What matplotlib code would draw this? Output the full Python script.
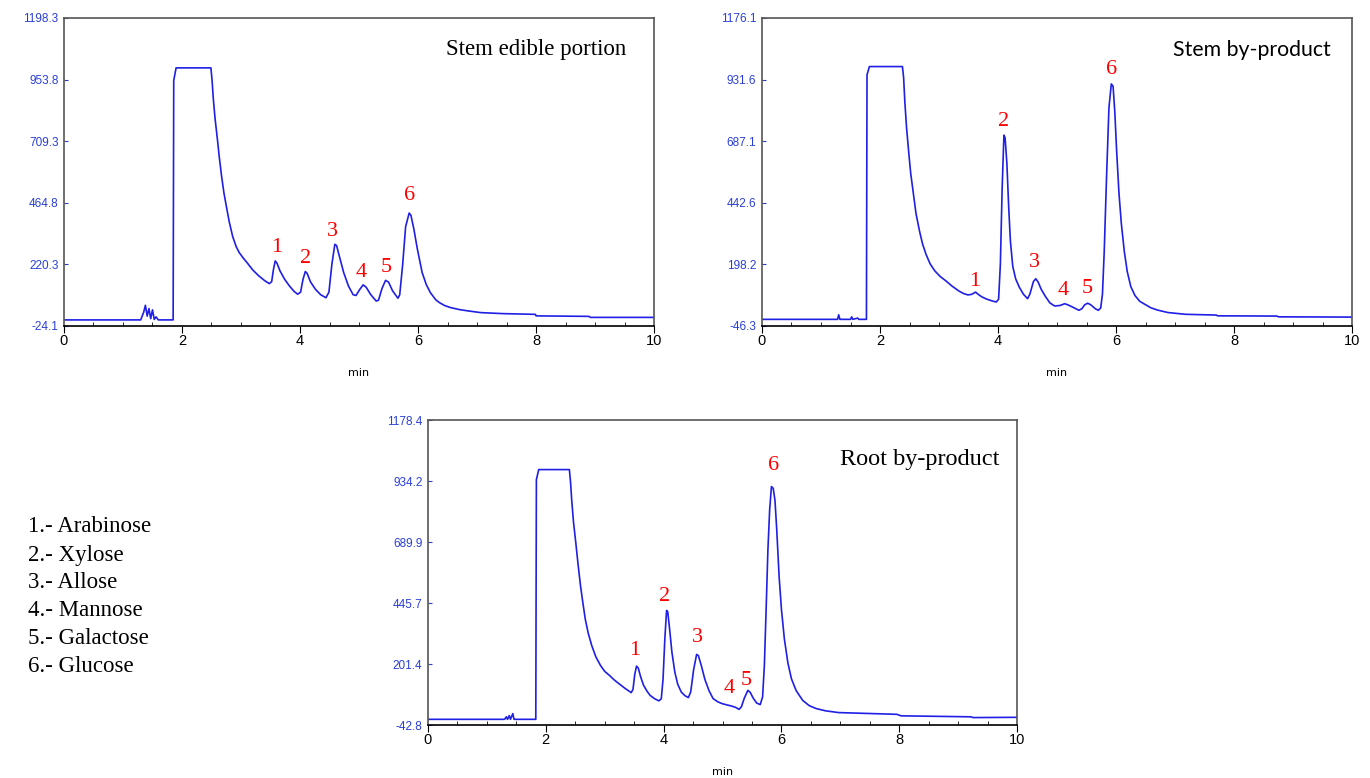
import matplotlib.pyplot as plt
from matplotlib.ticker import MultipleLocator

# chromatogram traces (time in min, signal)
t_stem = [0, 1.30, 1.35, 1.38, 1.41, 1.44, 1.47, 1.50, 1.53, 1.56, 1.60, 1.85, 1.86, 1.90, 2.49,
          2.51, 2.53, 2.56, 2.60, 2.63, 2.67, 2.71, 2.75, 2.80, 2.86, 2.92, 2.97, 3.04, 3.11, 3.20,
          3.30, 3.40, 3.48, 3.52, 3.55, 3.58, 3.61, 3.66, 3.74, 3.82, 3.90, 3.96, 4.01, 4.05, 4.09,
          4.12, 4.18, 4.26, 4.35, 4.44, 4.49, 4.54, 4.59, 4.62, 4.67, 4.74, 4.82, 4.90, 4.95, 5.01,
          5.07, 5.12, 5.20, 5.29, 5.33, 5.39, 5.45, 5.50, 5.57, 5.66, 5.69, 5.74, 5.79, 5.85, 5.88,
          5.93, 5.99, 6.07, 6.14, 6.21, 6.30, 6.36, 6.45, 6.55, 6.70, 6.84, 7.06, 7.43, 7.99, 8.00,
          8.90, 8.92, 10.0]
y_stem = [0, 0, 30, 58, 15, 45, 5, 40, 2, 12, 0, 0, 950, 1000, 1000,
          950, 880, 800, 717, 650, 572, 505, 453, 390, 330, 290, 267, 245, 225, 198,
          175, 156, 144, 152, 200, 234, 225, 195, 161, 135, 113, 102, 110, 160, 192,
          185, 150, 122, 100, 88, 110, 220, 300, 295, 250, 188, 135, 100, 97, 120,
          139, 130, 100, 75, 78, 125, 157, 150, 115, 86, 100, 220, 370, 424, 415,
          360, 280, 188, 140, 108, 80, 69, 57, 49, 41, 36, 29, 25, 22, 16,
          14, 10, 10]

t_stem_bp = [0, 1.28, 1.30, 1.32, 1.50, 1.52, 1.54, 1.62, 1.64, 1.77, 1.78, 1.82, 2.38, 2.40, 2.42,
             2.45, 2.49, 2.52, 2.56, 2.61, 2.67, 2.72, 2.78, 2.85, 2.93, 3.02, 3.12, 3.22, 3.34, 3.42,
             3.49, 3.55, 3.62, 3.66, 3.72, 3.80, 3.90, 3.97, 4.01, 4.04, 4.07, 4.10, 4.12, 4.15, 4.18,
             4.21, 4.25, 4.30, 4.36, 4.43, 4.50, 4.54, 4.60, 4.64, 4.68, 4.73, 4.80, 4.88, 4.96, 5.05,
             5.13, 5.18, 5.27, 5.37, 5.42, 5.47, 5.52, 5.57, 5.65, 5.70, 5.74, 5.77, 5.80, 5.84, 5.88,
             5.92, 5.95, 5.98, 6.01, 6.05, 6.09, 6.14, 6.19, 6.25, 6.32, 6.40, 6.50, 6.59, 6.70, 6.88,
             7.18, 7.70, 7.72, 8.73, 8.75, 10.0]
y_stem_bp = [-20, -20, -2, -20, -20, -10, -20, -15, -20, -20, 950, 983, 983, 940, 846,
             740, 634, 560, 489, 400, 330, 280, 238, 200, 172, 150, 132, 112, 92, 82,
             77, 79, 88, 80, 70, 61, 53, 49, 60, 200, 500, 711, 700, 600, 430,
             290, 190, 140, 108, 80, 62, 80, 130, 141, 128, 100, 72, 45, 33, 35,
             42, 38, 28, 16, 22, 38, 44, 38, 22, 16, 25, 80, 250, 550, 820,
             914, 905, 800, 650, 480, 360, 250, 170, 110, 75, 52, 38, 26, 17, 7,
             0, -3, -6, -7, -10, -11]

t_root = [0, 1.30, 1.33, 1.35, 1.38, 1.40, 1.44, 1.46, 1.83, 1.84, 1.88, 2.40, 2.42, 2.44, 2.47,
          2.51, 2.55, 2.59, 2.63, 2.67, 2.72, 2.78, 2.85, 2.93, 3.00, 3.08, 3.16, 3.24, 3.35, 3.45,
          3.48, 3.51, 3.54, 3.57, 3.61, 3.66, 3.72, 3.77, 3.85, 3.92, 3.96, 3.99, 4.02, 4.05, 4.07,
          4.10, 4.14, 4.19, 4.24, 4.30, 4.36, 4.42, 4.46, 4.51, 4.56, 4.59, 4.64, 4.70, 4.77, 4.84,
          4.92, 4.99, 5.07, 5.14, 5.22, 5.28, 5.32, 5.37, 5.43, 5.47, 5.52, 5.58, 5.64, 5.68, 5.71,
          5.74, 5.77, 5.80, 5.83, 5.86, 5.89, 5.92, 5.96, 6.00, 6.05, 6.11, 6.17, 6.25, 6.36, 6.47,
          6.59, 6.75, 6.97, 7.96, 8.03, 9.22, 9.25, 10.0]
y_root = [-20, -20, -10, -20, -5, -20, 3, -20, -20, 940, 980, 980, 930, 857, 770,
          685, 595, 513, 445, 381, 325, 275, 230, 195, 172, 156, 138, 123, 103, 87,
          100, 160, 193, 185, 150, 116, 92, 76, 62, 54, 62, 140, 300, 416, 410,
          345, 250, 169, 120, 89, 75, 67, 90, 180, 240, 235, 195, 140, 95, 63,
          50, 43, 38, 34, 28, 20, 30, 65, 96, 88, 65, 45, 39, 70, 195,
          420, 658, 820, 912, 905, 857, 740, 553, 420, 301, 205, 142, 95, 56, 35,
          23, 14, 7, 0, -6, -10, -13, -12]

# peak number labels (x, y in data units)
lbl_stem_x = [3.6, 4.1, 4.55, 5.03, 5.47, 5.86]
lbl_stem_y = [287, 243, 350, 190, 207, 493]
lbl_stem_bp_x = [3.6, 4.09, 4.61, 5.1, 5.52, 5.92]
lbl_stem_bp_y = [132, 764, 205, 95, 103, 972]
lbl_root_x = [3.5, 4.02, 4.58, 5.12, 5.41, 5.86]
lbl_root_y = [255, 473, 308, 103, 136, 996]

yt_stem = [-24.1, 220.3, 464.8, 709.3, 953.8, 1198.3]
yt_stem_bp = [-46.3, 198.2, 442.6, 687.1, 931.6, 1176.1]
yt_root = [-42.8, 201.4, 445.7, 689.9, 934.2, 1178.4]

sugars = ['1.- Arabinose', '2.- Xylose', '3.- Allose', '4.- Mannose', '5.- Galactose', '6.- Glucose']

fig = plt.figure(figsize=(13.7, 7.78), dpi=100)

panels = [
    ([0.0467, 0.581, 0.4307, 0.396], t_stem, y_stem, yt_stem, lbl_stem_x, lbl_stem_y,
     'Stem edible portion', 'Liberation Serif', 16.5, (0.80, 0.896)),
    ([0.5562, 0.581, 0.4307, 0.396], t_stem_bp, y_stem_bp, yt_stem_bp, lbl_stem_bp_x, lbl_stem_bp_y,
     'Stem by-product', 'Lato', 15.3, (0.83, 0.896)),
    ([0.3124, 0.0681, 0.4300, 0.392], t_root, y_root, yt_root, lbl_root_x, lbl_root_y,
     'Root by-product', 'Liberation Serif', 17.5, (0.834, 0.87)),
]

for rect, tt, yy, yt, lx, ly, title, tfont, tsize, tpos in panels:
    ax = fig.add_axes(rect)
    ax.plot(tt, yy, color='#1f1fe6', lw=1.2)
    ax.set_xlim(0, 10)
    ax.set_ylim(yt[0], yt[-1])
    ax.set_yticks(yt)
    ax.set_yticklabels(['%.1f' % v for v in yt], color='#2a3fd8',
                       fontfamily='Liberation Sans', fontsize=8.5)
    ax.tick_params(axis='y', direction='in', length=3, color='#2a3fd8', pad=4)
    ax.set_xticks([0, 2, 4, 6, 8, 10])
    ax.xaxis.set_minor_locator(MultipleLocator(0.5))
    ax.tick_params(axis='x', which='major', direction='out', length=5, labelsize=10.5, pad=1)
    ax.tick_params(axis='x', which='minor', direction='in', length=3)
    for lab in ax.get_xticklabels():
        lab.set_fontfamily('Liberation Sans')
    for s in ax.spines.values():
        s.set_color('#555555')
        s.set_linewidth(1.2)
    ax.spines['bottom'].set_color('black')
    ax.set_xlabel('min', fontsize=8, labelpad=14)
    for i in range(6):
        ax.text(lx[i], ly[i], str(i + 1), color='red', fontsize=16,
                fontfamily='Liberation Serif', ha='center', va='center')
    ax.text(tpos[0], tpos[1], title, transform=ax.transAxes, fontsize=tsize,
            fontfamily=tfont, ha='center', va='center')

for i, s in enumerate(sugars):
    fig.text(28 / 1370, 1 - (527 + 28 * i) / 778, s, fontsize=16.5,
             fontfamily='Liberation Serif', ha='left', va='center')

fig.savefig('out.png', dpi=100)
